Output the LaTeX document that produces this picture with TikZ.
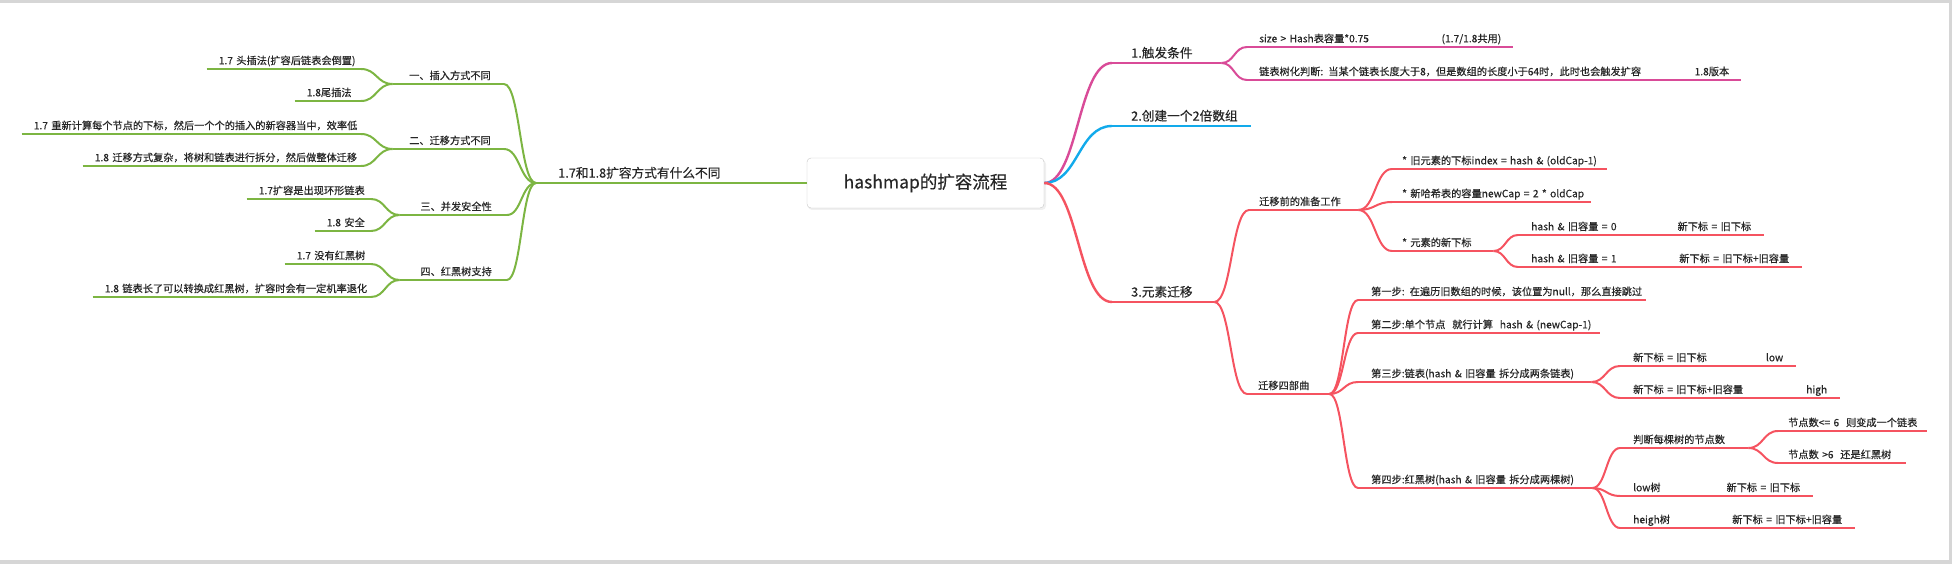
\documentclass[tikz,border=0pt]{standalone}
\usepackage{fontspec}
\setmainfont{Noto Sans CJK SC}[FakeBold=0.35]
\usetikzlibrary{calc}
\definecolor{ink}{HTML}{262626}
\definecolor{leafgreen}{RGB}{124,181,66}
\definecolor{rosepink}{RGB}{217,75,152}
\definecolor{skyblue}{RGB}{18,170,235}
\definecolor{coral}{RGB}{245,83,96}
\definecolor{framegray}{HTML}{D6D6D6}

\begin{document}
\begin{tikzpicture}[x=1pt, y=-1pt]
  % Styles
  \tikzset{
    topic/.style={inner ysep=0pt, text height=8pt, text depth=4.5pt, text=ink, font=\fontsize{10.2}{12}\selectfont},
    major/.style={font=\fontsize{12.7}{15}\selectfont, text height=10pt, text depth=5.2pt},
    lead/.style={execute at begin node=\hbox to\hsize\bgroup, execute at end node=\hfil\egroup},
    trail/.style={execute at begin node=\hbox to\hsize\bgroup\hfil, execute at end node=\egroup},
    rnode/.style 2 args={topic, lead, anchor=south west, inner xsep=#2, text width=#1-2*#2},
    lnode/.style 2 args={topic, trail, anchor=south east, inner xsep=#2, text width=#1-2*#2},
    hub/.style={rectangle, draw=black!22, fill=white, rounded corners=4pt, minimum width=237pt,
      minimum height=50pt, text=ink, font=\fontsize{17.5}{20}\selectfont},
    link/.style={to path={let \p1=(\tikztostart), \p2=(\tikztotarget) in
      .. controls (\x1/2+\x2/2,\y1) and (\x1/2+\x2/2,\y2) .. (\tikztotarget)}},
    main line/.style={line width=2.4pt},
    sub line/.style={line width=2pt},
  }
  \useasboundingbox (0,0) rectangle (1952,564);
  \fill[framegray] (0,0) rectangle (1952,3);
  \fill[framegray] (0,560) rectangle (1952,564);
  \fill[framegray] (1949,0) rectangle (1952,564);

  % Centre
  \fill[black!6, rounded corners=4pt] (808,160) rectangle (1046,210);
  \node[hub] (hub) at (925.5,183) {hashmap的扩容流程};

  % Left side: 1.7 vs 1.8
  \node[rnode={204}{22}, major] (diff) at (536,183) {1.7和1.8扩容方式有什么不同};
  \node[lnode={111}{13}] (insert) at (504,84) {一、插入方式不同};
  \node[lnode={111}{13}] (move) at (504,149) {二、迁移方式不同};
  \node[lnode={107}{15}] (safe) at (507,215) {三、并发安全性};
  \node[lnode={107}{15}] (tree) at (507,280) {四、红黑树支持};

  \node[lnode={154}{12}] (ins7) at (361,69) {1.7 头插法(扩容后链表会倒置)};
  \node[lnode={66}{12}] (ins8) at (361,101) {1.8尾插法};
  \node[lnode={339}{12}] (mov7) at (361,134) {1.7 重新计算每个节点的下标，然后一个个的插入的新容器当中，效率低};
  \node[lnode={278}{12}] (mov8) at (361,166) {1.8 迁移方式复杂，将树和链表进行拆分，然后做整体迁移};
  \node[lnode={124}{12}] (safe7) at (371,199) {1.7扩容是出现环形链表};
  \node[lnode={56}{12}] (safe8) at (371,231) {1.8 安全};
  \node[lnode={86}{12}] (tree7) at (371,264) {1.7 没有红黑树};
  \node[lnode={278}{12}] (tree8) at (371,297) {1.8 链表长了可以转换成红黑树，扩容时会有一定机率退化};

  % Right side: expansion steps
  \node[rnode={109}{19}, major] (trigger) at (1112,63) {1.触发条件};
  \node[rnode={139}{19}, major] (double) at (1112,126) {2.创建一个2倍数组};
  \node[rnode={102}{19}, major] (migrate) at (1112,302) {3.元素迁移};

  \node[rnode={266}{12}] (sizecond) at (1247,47) {size > Hash表容量*0.75\hfill(1.7/1.8共用)};
  \node[rnode={494}{12}] (treeify) at (1247,80) {链表树化判断: 当某个链表长度大于8，但是数组的长度小于64时，此时也会触发扩容\hfill 1.8版本};

  \node[rnode={109}{10}] (prep) at (1249,210) {迁移前的准备工作};
  \node[rnode={215}{10}] (oldidx) at (1392,169) {* 旧元素的下标index = hash \& (oldCap-1)};
  \node[rnode={199}{10}] (newcap) at (1392,202) {* 新哈希表的容量newCap = 2 * oldCap};
  \node[rnode={101}{10}] (newidx) at (1392,251) {* 元素的新下标};
  \node[rnode={246}{13}] (bit0) at (1518,235) {hash \& 旧容量 = 0\hfill 新下标 = 旧下标};
  \node[rnode={284}{13}] (bit1) at (1518,267) {hash \& 旧容量 = 1\hfill 新下标 = 旧下标+旧容量};

  \node[rnode={82}{11}] (steps) at (1247,394) {迁移四部曲};
  \node[rnode={288}{13}] (step1) at (1358,300) {第一步: 在遍历旧数组的时候，该位置为null，那么直接跳过};
  \node[rnode={242}{13}] (step2) at (1358,333) {第二步:单个节点\ \ 就行计算\ \ hash \& (newCap-1)};
  \node[rnode={233}{13}] (step3) at (1358,382) {第三步:链表(hash \& 旧容量 拆分成两条链表)};
  \node[rnode={176}{13}] (low) at (1620,366) {新下标 = 旧下标\hfill low};
  \node[rnode={220}{13}] (high) at (1620,398) {新下标 = 旧下标+旧容量\hfill high};
  \node[rnode={234}{13}] (step4) at (1358,488) {第四步:红黑树(hash \& 旧容量 拆分成两棵树)};
  \node[rnode={128}{13}] (count) at (1620,448) {判断每棵树的节点数};
  \node[rnode={149}{10}] (tolist) at (1778,431) {节点数<= 6\ \ 则变成一个链表};
  \node[rnode={128}{10}] (keeptree) at (1778,463) {节点数 >6\ \ 还是红黑树};
  \node[rnode={193}{13}] (lowtree) at (1620,496) {low树\hfill 新下标 = 旧下标};
  \node[rnode={235}{13}] (hightree) at (1620,528) {heigh树\hfill 新下标 = 旧下标+旧容量};

  % Underlines
  \draw[main line, leafgreen] (diff.south west) -- (diff.south east);
  \draw[main line, rosepink] (trigger.south west) -- (trigger.south east);
  \draw[main line, skyblue] (double.south west) -- (double.south east);
  \draw[main line, coral] (migrate.south west) -- (migrate.south east);
  \foreach \n in {insert,move,safe,tree,ins7,ins8,mov7,mov8,safe7,safe8,tree7,tree8}
    \draw[sub line, leafgreen] (\n.south west) -- (\n.south east);
  \foreach \n in {sizecond,treeify}
    \draw[sub line, rosepink] (\n.south west) -- (\n.south east);
  \foreach \n in {prep,oldidx,newcap,newidx,bit0,bit1,steps,step1,step2,step3,low,high,step4,count,tolist,keeptree,lowtree,hightree}
    \draw[sub line, coral] (\n.south west) -- (\n.south east);

  % Connectors
  \draw[main line, leafgreen] (hub.west) -- (diff.south east);
  \draw[main line, rosepink] (hub.east) to[link] (trigger.south west);
  \draw[main line, skyblue] (hub.east) to[link] (double.south west);
  \draw[main line, coral] (hub.east) to[link] (migrate.south west);

  \foreach \a/\b in {diff/insert, diff/move, diff/safe, diff/tree, insert/ins7, insert/ins8,
      move/mov7, move/mov8, safe/safe7, safe/safe8, tree/tree7, tree/tree8}
    \draw[sub line, leafgreen] (\a.south west) to[link] (\b.south east);
  \foreach \a/\b in {trigger/sizecond, trigger/treeify}
    \draw[sub line, rosepink] (\a.south east) to[link] (\b.south west);
  \foreach \a/\b in {migrate/prep, migrate/steps, prep/oldidx, prep/newcap, prep/newidx,
      newidx/bit0, newidx/bit1, steps/step1, steps/step2, steps/step3, steps/step4,
      step3/low, step3/high, step4/count, step4/lowtree, step4/hightree,
      count/tolist, count/keeptree}
    \draw[sub line, coral] (\a.south east) to[link] (\b.south west);
\end{tikzpicture}
\end{document}
